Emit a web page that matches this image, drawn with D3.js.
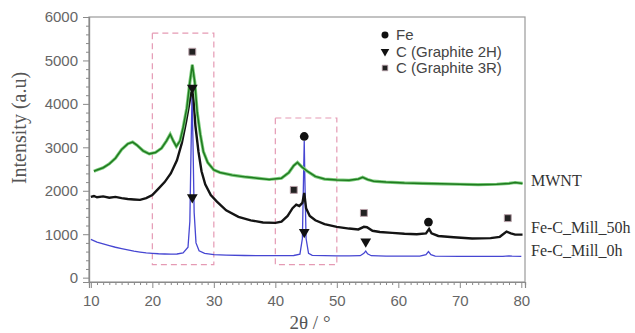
<!DOCTYPE html>
<html>
<head>
<meta charset="utf-8">
<script src="https://cdn.jsdelivr.net/npm/d3@7"></script>
<style>
  body { margin: 0; background: #fff; }
</style>
</head>
<body>
<div class="xrd"></div>
<script>
// XRD patterns
var theta0h = [10, 11, 12, 13, 14, 15, 16, 17, 18, 19, 20, 21, 22, 23, 24, 25, 25.8, 26.1, 26.3, 26.45, 26.6, 26.8, 27.1, 27.6, 28.5, 30, 32, 35, 38, 41, 43, 44, 44.4, 44.6, 44.7, 44.8, 45.0, 45.4, 46, 48, 50, 52, 53.8, 54.4, 54.7, 55.0, 55.6, 58, 61, 63.5, 64.5, 64.9, 65.3, 66, 70, 74, 77, 78, 78.5, 80];
var int0h   = [880, 820, 780, 740, 700, 670, 640, 610, 590, 570, 560, 550, 545, 540, 545, 570, 700, 1300, 3000, 4200, 3200, 1500, 800, 620, 560, 530, 520, 510, 505, 505, 510, 540, 900, 2400, 3150, 2300, 900, 560, 515, 505, 500, 500, 505, 560, 610, 550, 505, 495, 495, 495, 530, 600, 530, 495, 490, 490, 490, 500, 495, 490];

var theta50h = [10, 10.5, 11, 12, 13, 14, 15, 16, 17, 18, 19, 20, 21, 22, 23, 24, 24.8, 25.5, 26.0, 26.3, 26.5, 26.7, 27.0, 27.5, 28, 28.6, 29.5, 30.5, 32, 34, 36, 38, 40, 41, 42, 42.8, 43.4, 43.9, 44.4, 44.7, 45.0, 45.6, 46.5, 48, 50, 52, 53.5, 54.4, 54.9, 55.8, 57, 59, 61, 63, 64.5, 65, 65.4, 66.5, 69, 72, 75, 76.5, 77.6, 78.3, 79, 80.2];
var int50h   = [1860, 1880, 1850, 1870, 1840, 1860, 1830, 1810, 1800, 1790, 1830, 1900, 2050, 2200, 2400, 2700, 3100, 3600, 4000, 4250, 4300, 4100, 3500, 2900, 2450, 2150, 1900, 1750, 1550, 1400, 1320, 1270, 1260, 1290, 1420, 1600, 1680, 1650, 1720, 1950, 1600, 1420, 1320, 1230, 1170, 1130, 1110, 1170, 1160, 1080, 1050, 1030, 1010, 1000, 1020, 1120, 1020, 960, 930, 900, 910, 940, 1060, 1020, 990, 990];

var thetaMwnt = [10.5, 11, 12, 13, 14, 15, 16, 16.8, 17.5, 18.5, 19.5, 20.5, 21.5, 22.3, 22.9, 23.4, 23.9, 24.5, 25, 25.6, 26.1, 26.5, 26.9, 27.3, 27.8, 28.3, 29, 30, 31, 33, 35, 37, 39, 41, 42.2, 43, 43.6, 44.3, 45.2, 46.5, 48, 50, 52, 53.5, 54.2, 55, 56, 58, 61, 64, 67, 70, 73, 76, 78, 79, 80.2];
var intMwnt   = [2450, 2480, 2530, 2620, 2750, 2950, 3080, 3120, 3050, 2920, 2850, 2880, 2980, 3150, 3300, 3150, 3020, 3150, 3450, 3900, 4500, 4900, 4500, 3800, 3300, 2900, 2650, 2480, 2420, 2360, 2320, 2290, 2260, 2290, 2420, 2580, 2650, 2550, 2450, 2330, 2270, 2250, 2240, 2270, 2310, 2260, 2220, 2200, 2180, 2170, 2160, 2150, 2140, 2150, 2170, 2190, 2170];

var seriesNames = ["MWNT", "Fe-C_Mill_50h", "Fe-C_Mill_0h"];
var seriesLabelY = [2250, 1150, 630];

// phase markers [2theta, intensity]
var fePeaks = [[44.7, 3250], [64.9, 1280]];
var graphite2H = [[26.5, 4370], [26.5, 1850], [44.7, 1050], [54.7, 830]];
var graphite3R = [[26.5, 5200], [43.0, 2020], [54.4, 1490], [77.8, 1370]];

var legendNames = ["Fe", "C (Graphite 2H)", "C (Graphite 3R)"];

// dashed regions [from, to, low, high]
var regions = [[20, 30, 300, 5630], [40, 50, 300, 3675]];

var xTicks = [10, 20, 30, 40, 50, 60, 70, 80];
var yTicks = [0, 1000, 2000, 3000, 4000, 5000, 6000];

var margin = {top: 17, right: 110, bottom: 51, left: 89},
    width = 635 - margin.left - margin.right,
    height = 333 - margin.top - margin.bottom;

var svg = d3.select(".xrd")
  .append("svg")
    .attr("width", 635)
    .attr("height", 333)
  .append("g")
    .attr("transform", "translate(" + margin.left + "," + margin.top + ")");

var x = d3.scaleLinear()
  .domain([9.7, 80.6])
  .range([0, width]);

var y = d3.scaleLinear()
  .domain([-100, 6000])
  .range([height, 0]);

// frame
svg.append("rect")
  .attr("width", width)
  .attr("height", height)
  .attr("fill", "none")
  .attr("stroke", "#9a9a9a")
  .attr("stroke-width", 1.2);

// minor ticks
var xMinor = d3.range(10, 81, 1).filter(function(d) { return d % 10 != 0; });
var yMinor = d3.range(0, 6001, 200).filter(function(d) { return d % 1000 != 0; });

svg.append("g")
  .attr("class", "axis")
  .attr("transform", "translate(0," + height + ")")
  .call(d3.axisBottom(x).tickValues(xMinor).tickSize(3).tickFormat(""));
svg.append("g")
  .attr("class", "axis")
  .call(d3.axisLeft(y).tickValues(yMinor).tickSize(3).tickFormat(""));

// major ticks
svg.append("g")
  .attr("class", "axis")
  .attr("transform", "translate(0," + height + ")")
  .call(d3.axisBottom(x).tickValues(xTicks).tickSize(6).tickPadding(7).tickFormat(d3.format("d")));
svg.append("g")
  .attr("class", "axis")
  .call(d3.axisLeft(y).tickValues(yTicks).tickSize(6).tickPadding(5).tickFormat(d3.format("d")));

svg.selectAll(".axis path").attr("stroke", "#8a8a8a").attr("stroke-width", 1.2);
svg.selectAll(".axis line").attr("stroke", "#8a8a8a");
svg.selectAll(".axis text")
  .style("font-family", "'Liberation Sans', Arial, sans-serif")
  .style("font-size", "15px")
  .attr("fill", "#666");

// dashed boxes
svg.selectAll("rect.region")
  .data(regions)
  .enter()
  .append("rect")
    .attr("class", "region")
    .attr("x", function(d) { return x(d[0]); })
    .attr("y", function(d) { return y(d[3]); })
    .attr("width", function(d) { return x(d[1]) - x(d[0]); })
    .attr("height", function(d) { return y(d[2]) - y(d[3]); })
    .attr("fill", "none")
    .attr("stroke", "#e59ab4")
    .attr("stroke-width", 1.2)
    .attr("stroke-dasharray", "6,4");

// curves
var line = d3.line()
  .x(function(d) { return x(d[0]); })
  .y(function(d) { return y(d[1]); });

function pairs(t, v) { return t.map(function(d, i) { return [d, v[i]]; }); }

svg.append("path")
  .datum(pairs(theta0h, int0h))
  .attr("d", line)
  .attr("fill", "none")
  .attr("stroke", "#4646d2")
  .attr("stroke-width", 1.3);

svg.append("path")
  .datum(pairs(theta50h, int50h))
  .attr("d", line)
  .attr("fill", "none")
  .attr("stroke", "#141414")
  .attr("stroke-width", 2.4);

svg.append("path")
  .datum(pairs(thetaMwnt, intMwnt))
  .attr("d", line)
  .attr("fill", "none")
  .attr("stroke", "#7ccc7c")
  .attr("stroke-width", 3.2);
svg.append("path")
  .datum(pairs(thetaMwnt, intMwnt))
  .attr("d", line)
  .attr("fill", "none")
  .attr("stroke", "#1f7a1f")
  .attr("stroke-width", 1.5);

// markers
var circleSym = d3.symbol().type(d3.symbolCircle).size(60);
var triSym = d3.symbol().type(d3.symbolTriangle).size(50);
var sqSym = d3.symbol().type(d3.symbolSquare).size(48);

function drawMarks(data, sym, rot, fill, stroke) {
  svg.selectAll(null)
    .data(data)
    .enter()
    .append("path")
      .attr("d", sym)
      .attr("transform", function(d) { return "translate(" + x(d[0]) + "," + y(d[1]) + ") rotate(" + rot + ")"; })
      .attr("fill", fill)
      .attr("stroke", stroke)
      .attr("stroke-width", 1);
}
drawMarks(fePeaks, circleSym, 0, "#111", "none");
drawMarks(graphite2H, triSym, 180, "#111", "none");
drawMarks(graphite3R, sqSym, 0, "#222", "#b8a0a8");

// legend
var legend = svg.append("g")
  .attr("transform", "translate(" + (385 - margin.left) + "," + (35 - margin.top) + ")");
var legSyms = [[circleSym, 0, "#111", "none"], [triSym, 180, "#111", "none"], [sqSym, 0, "#222", "#b8a0a8"]];
legendNames.forEach(function(name, i) {
  var s = legSyms[i];
  legend.append("path")
    .attr("d", s[0])
    .attr("transform", "translate(0," + (i * 16.5) + ") rotate(" + s[1] + ") scale(0.8)")
    .attr("fill", s[2])
    .attr("stroke", s[3]);
  legend.append("text")
    .attr("x", 11)
    .attr("y", i * 16.5)
    .attr("dy", "0.36em")
    .style("font-family", "'Liberation Sans', Arial, sans-serif")
    .style("font-size", "15px")
    .attr("fill", "#444")
    .text(name);
});

// series names on the right
svg.selectAll("text.series")
  .data(seriesNames)
  .enter()
  .append("text")
    .attr("class", "series")
    .attr("x", width + 6)
    .attr("y", function(d, i) { return y(seriesLabelY[i]); })
    .attr("dy", "0.35em")
    .style("font-family", "'Liberation Serif', 'Times New Roman', serif")
    .style("font-size", "16px")
    .attr("fill", "#333")
    .text(function(d) { return d; });

// axis titles
svg.append("text")
  .attr("transform", "rotate(-90)")
  .attr("x", -(128 - margin.top))
  .attr("y", 19 - margin.left)
  .attr("dy", "0.35em")
  .style("text-anchor", "middle")
  .style("font-family", "'Liberation Serif', 'Times New Roman', serif")
  .style("font-size", "20px")
  .attr("fill", "#555")
  .text("Intensity (a.u)");

svg.append("text")
  .attr("x", 310 - margin.left)
  .attr("y", 329 - margin.top)
  .style("text-anchor", "middle")
  .style("font-family", "'Liberation Serif', 'Times New Roman', serif")
  .style("font-size", "19px")
  .attr("fill", "#555")
  .text("2θ / °");
</script>
</body>
</html>
